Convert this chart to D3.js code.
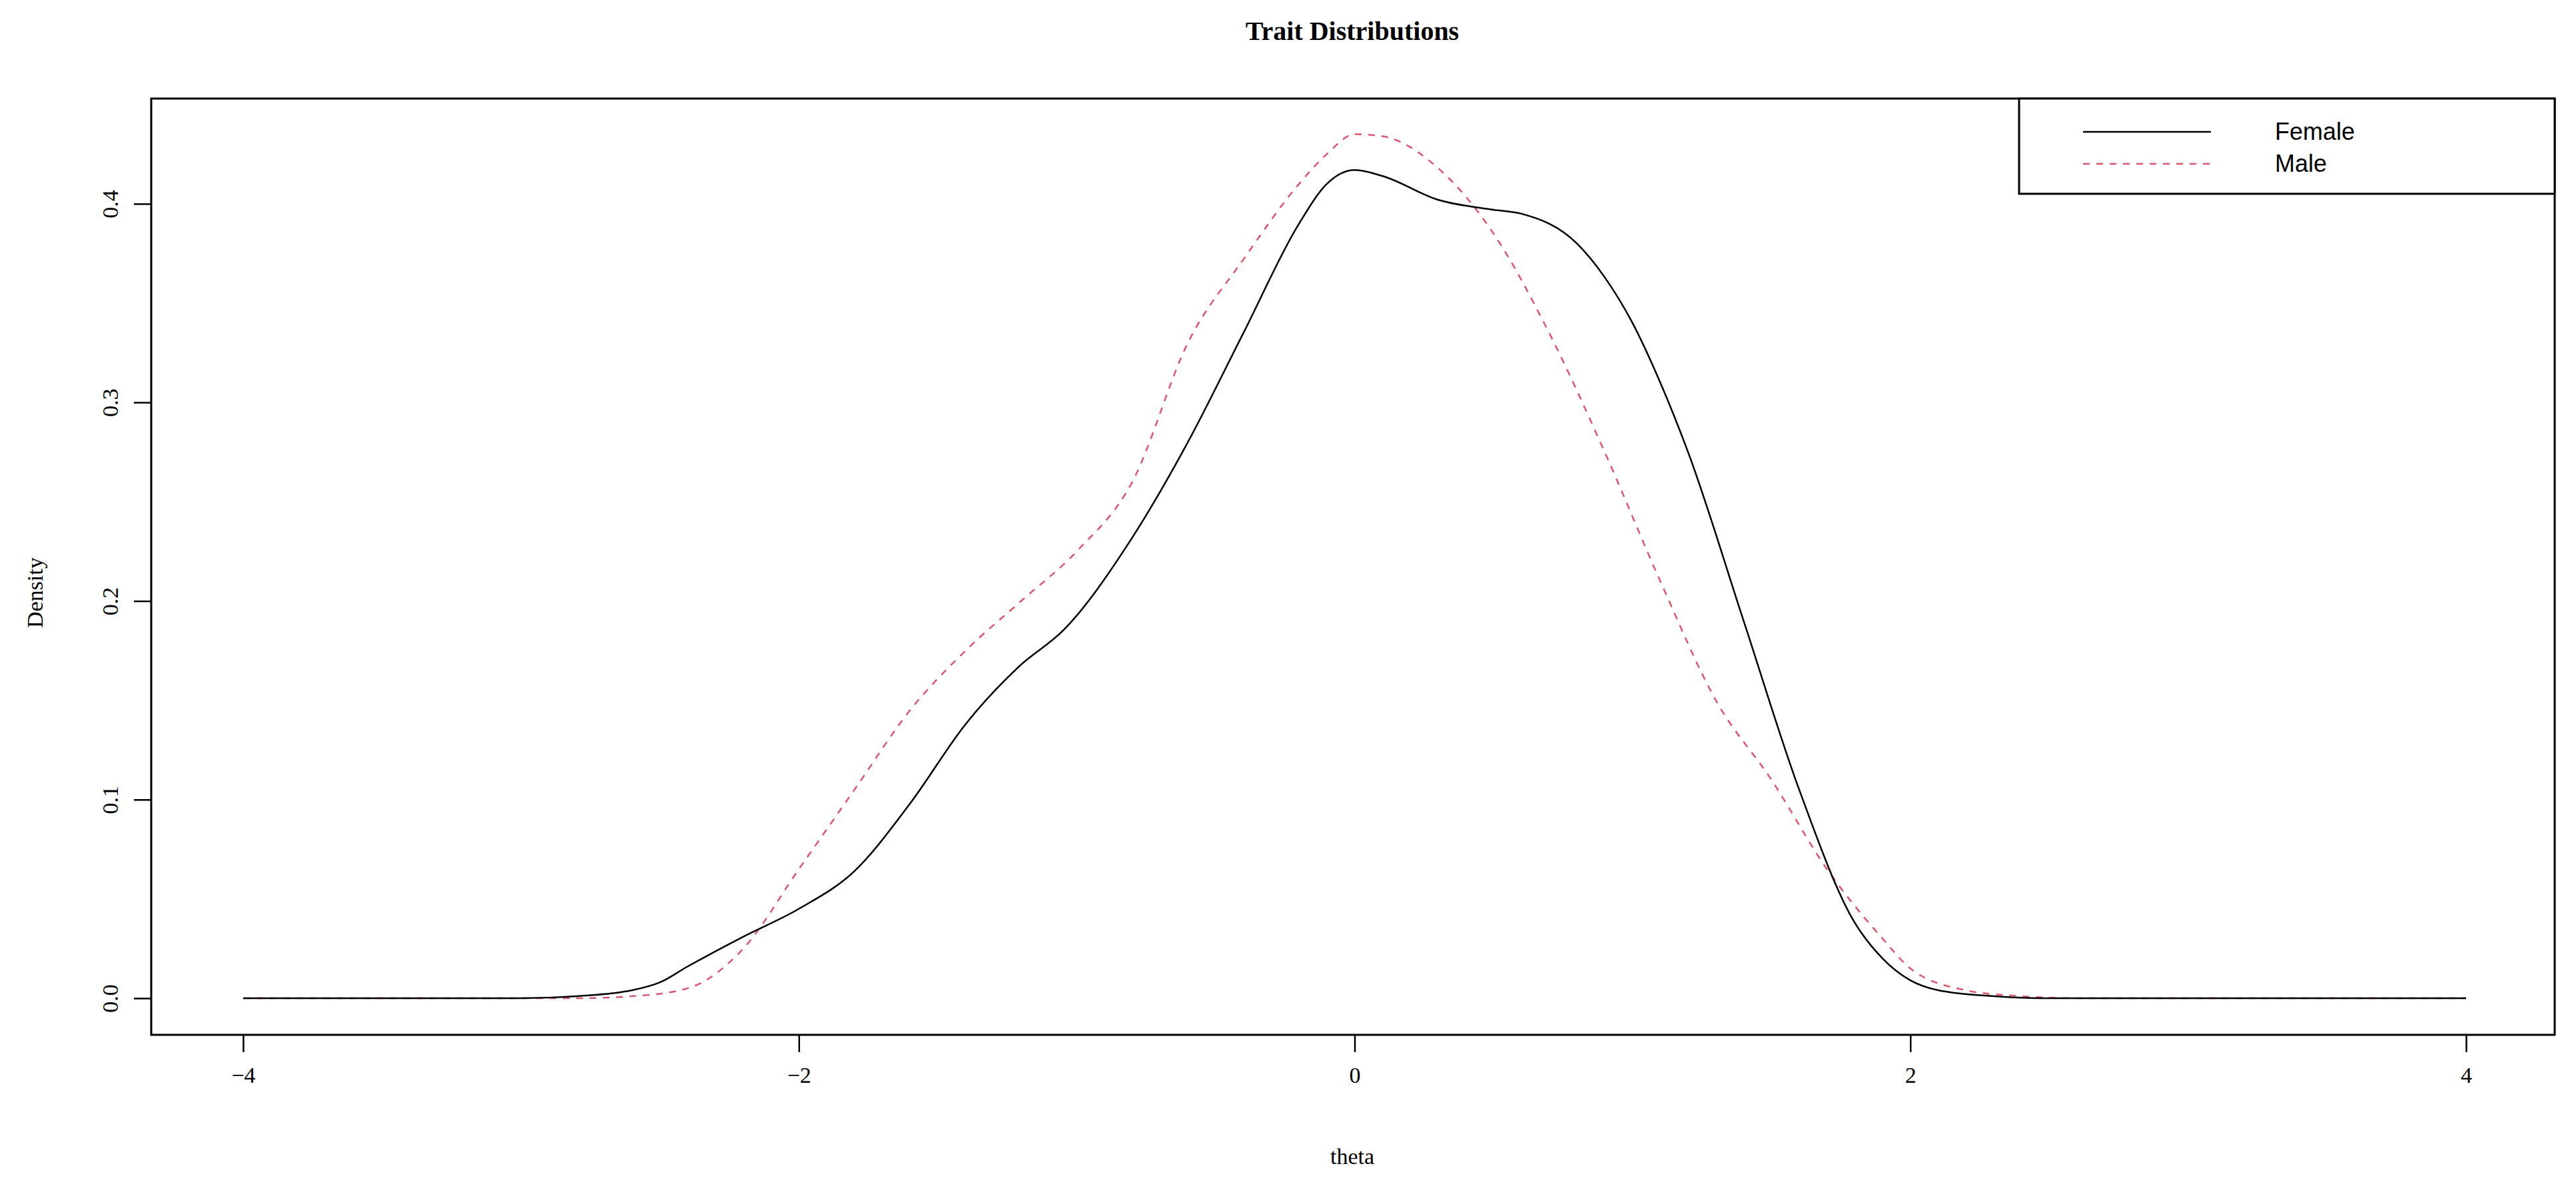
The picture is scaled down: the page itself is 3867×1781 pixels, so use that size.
<!DOCTYPE html>
<html><head><meta charset="utf-8">
<script src="https://cdn.jsdelivr.net/npm/d3@7"></script>
<style>body{margin:0;background:#fff}</style>
</head><body>
<svg id="chart" width="3867" height="1781"></svg>
<script>
var femaleX = [-4,-3.5,-3,-2.8,-2.6,-2.5,-2.4,-2.2,-2,-1.8,-1.6,-1.4,-1.2,-1.05,-0.8,-0.6,-0.4,-0.2,-0.1,0,0.1,0.3,0.5,0.6,0.8,0.9,1,1.1,1.2,1.4,1.6,1.8,1.9,2,2.1,2.3,2.5,3,3.5,4];
var femaleY = [0,0,0,0.001,0.004,0.008,0.016,0.031,0.045,0.064,0.098,0.138,0.168,0.185,0.232,0.28,0.335,0.39,0.41,0.417,0.414,0.402,0.397,0.395,0.38,0.363,0.34,0.31,0.275,0.19,0.105,0.038,0.02,0.009,0.004,0.001,0,0,0,0];
var maleX = [-4,-3.5,-3,-2.8,-2.6,-2.4,-2.2,-2,-1.8,-1.6,-1.4,-1.2,-1,-0.8,-0.6,-0.4,-0.2,-0.1,0,0.1,0.3,0.5,0.7,0.9,1.1,1.3,1.5,1.7,1.9,2,2.2,2.4,2.6,3,3.5,4];
var maleY = [0,0,0,0,0.001,0.005,0.025,0.065,0.105,0.145,0.175,0.2,0.225,0.26,0.33,0.372,0.41,0.425,0.435,0.434,0.418,0.385,0.335,0.275,0.21,0.15,0.11,0.065,0.03,0.015,0.004,0.001,0,0,0,0];
var xTicks = [-4,-2,0,2,4];
var yTicks = [0,0.1,0.2,0.3,0.4];
var legendLabels = ["Female","Male"];

var svg = d3.select("#chart");
var pLeft = 227, pRight = 3835, pTop = 148, pBottom = 1554;

var x = d3.scaleLinear().domain([-4,4]).range([365,3702]);
var y = d3.scaleLinear().domain([0,0.4]).range([1499,306]);

var xa = svg.append("g").attr("transform","translate(0,"+pBottom+")")
  .call(d3.axisBottom(x).tickValues(xTicks).tickSize(26).tickPadding(22).tickFormat(d3.format("d")));
xa.select(".domain").remove();
var ya = svg.append("g").attr("transform","translate("+pLeft+",0)")
  .call(d3.axisLeft(y).tickValues(yTicks).tickSize(26).tickFormat(d3.format(".1f")));
ya.select(".domain").remove();
svg.selectAll(".tick line").attr("stroke","#000").attr("stroke-width",2.5);
xa.selectAll("text").attr("font-family","Liberation Serif").attr("font-size",34).attr("fill","#000");
ya.selectAll("text").attr("font-family","Liberation Serif").attr("font-size",34).attr("fill","#000")
  .attr("text-anchor","middle").attr("x",0).attr("dy",0)
  .attr("transform","translate(-62,0) rotate(-90)").attr("dominant-baseline","central");

svg.append("rect").attr("x",pLeft).attr("y",pTop).attr("width",pRight-pLeft).attr("height",pBottom-pTop)
  .attr("fill","none").attr("stroke","#000").attr("stroke-width",3);

svg.append("text").attr("x",2030).attr("y",60).attr("text-anchor","middle")
  .attr("font-family","Liberation Serif").attr("font-weight","bold").attr("font-size",40).text("Trait Distributions");
svg.append("text").attr("x",2030).attr("y",1748).attr("text-anchor","middle")
  .attr("font-family","Liberation Serif").attr("font-size",34).text("theta");
svg.append("text").attr("transform","translate(64,890) rotate(-90)").attr("text-anchor","middle")
  .attr("font-family","Liberation Serif").attr("font-size",34).text("Density");

var line = d3.line().curve(d3.curveMonotoneX)
  .x(function(d){return x(d[0]);}).y(function(d){return y(d[1]);});
svg.append("path").datum(d3.zip(maleX,maleY)).attr("d",line).attr("fill","none")
  .attr("stroke","#DF536B").attr("stroke-width",2.5).attr("stroke-dasharray","10,10");
svg.append("path").datum(d3.zip(femaleX,femaleY)).attr("d",line).attr("fill","none")
  .attr("stroke","#000").attr("stroke-width",2.5);

// legend
svg.append("rect").attr("x",3031).attr("y",pTop).attr("width",pRight-3031).attr("height",291-pTop)
  .attr("fill","#fff").attr("stroke","#000").attr("stroke-width",3);
var styles = [{c:"#000",d:null},{c:"#DF536B",d:"10,10"}];
legendLabels.forEach(function(lab,i){
  var ly = 198 + i*48;
  svg.append("line").attr("x1",3127).attr("x2",3319).attr("y1",ly).attr("y2",ly)
    .attr("stroke",styles[i].c).attr("stroke-width",2.5).attr("stroke-dasharray",styles[i].d);
  svg.append("text").attr("x",3415).attr("y",ly+12).attr("font-family","Liberation Sans")
    .attr("font-size",36).text(lab);
});
</script>
</body></html>
